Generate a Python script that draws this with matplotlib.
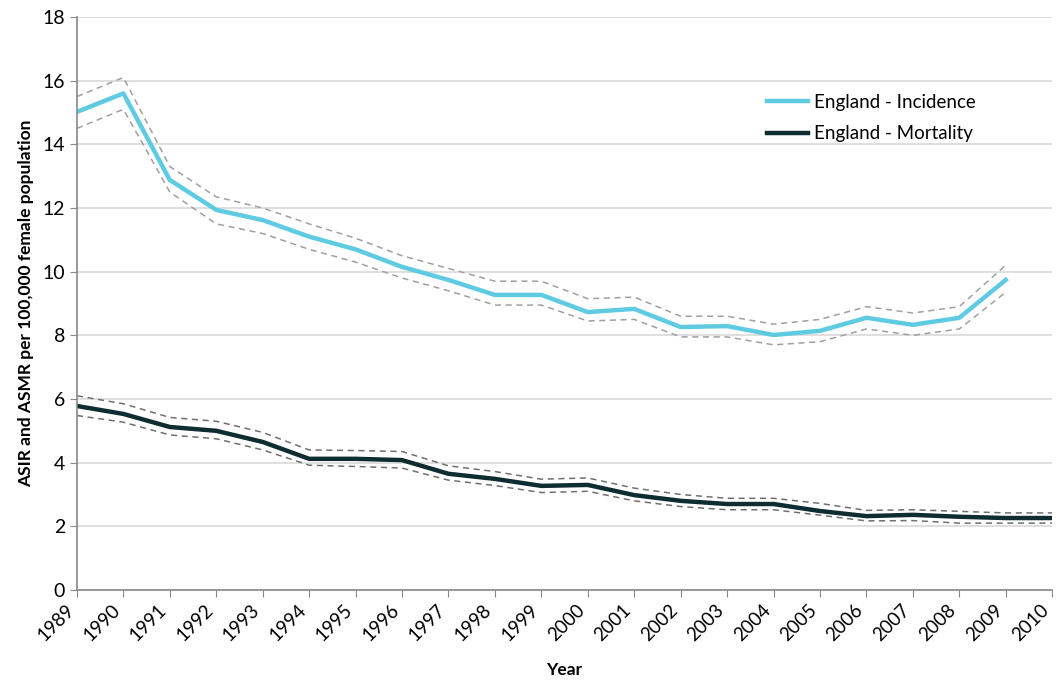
import matplotlib
matplotlib.use("Agg")
import matplotlib.pyplot as plt

years = list(range(1989, 2011))

inc_years = list(range(1989, 2010))
incidence = [15.02, 15.6, 12.88, 11.94, 11.62, 11.1, 10.7, 10.15, 9.74, 9.27, 9.27,
             8.73, 8.83, 8.26, 8.29, 8.01, 8.14, 8.55, 8.33, 8.55, 9.74]
inc_upper = [15.5, 16.1, 13.3, 12.35, 12.0, 11.5, 11.05, 10.5, 10.1, 9.7, 9.7,
             9.15, 9.2, 8.6, 8.6, 8.35, 8.5, 8.9, 8.7, 8.9, 10.2]
inc_lower = [14.5, 15.1, 12.5, 11.5, 11.2, 10.7, 10.3, 9.8, 9.4, 8.95, 8.95,
             8.45, 8.5, 7.95, 7.95, 7.7, 7.8, 8.2, 8.0, 8.2, 9.35]

mortality = [5.78, 5.53, 5.12, 5.0, 4.65, 4.12, 4.12, 4.08, 3.65, 3.49, 3.27,
             3.3, 2.98, 2.8, 2.7, 2.7, 2.48, 2.32, 2.36, 2.3, 2.26, 2.26]
mort_upper = [6.1, 5.85, 5.42, 5.3, 4.95, 4.4, 4.38, 4.35, 3.9, 3.72, 3.48,
              3.52, 3.2, 3.0, 2.88, 2.88, 2.72, 2.5, 2.52, 2.47, 2.42, 2.42]
mort_lower = [5.48, 5.27, 4.87, 4.75, 4.4, 3.92, 3.88, 3.83, 3.45, 3.28, 3.06,
              3.1, 2.8, 2.62, 2.52, 2.52, 2.35, 2.17, 2.18, 2.1, 2.1, 2.1]

plt.rcParams['font.family'] = ['Lato', 'DejaVu Sans']

fig = plt.figure(figsize=(10.6, 6.8), dpi=100)
ax = fig.add_axes([0.0726, 0.1324, 0.92, 0.8426])

ci_col = '#a0a0a0'
ax.plot(inc_years, inc_upper, color=ci_col, lw=1.1, ls=(0, (4, 3)))
ax.plot(inc_years, inc_lower, color=ci_col, lw=1.1, ls=(0, (4, 3)))
ax.plot(years, mort_upper, color='#707070', lw=1.1, ls=(0, (4, 3)))
ax.plot(years, mort_lower, color='#707070', lw=1.1, ls=(0, (4, 3)))
ax.plot(inc_years, incidence, color='#5fcbe3', lw=3.2, label='England - Incidence')
ax.plot(years, mortality, color='#0e2d30', lw=3.2, label='England - Mortality')

ax.set_xlim(1989, 2010)
ax.set_ylim(0, 18)
ax.set_yticks(range(0, 19, 2))
ax.set_xticks(years)
ax.set_xticklabels([str(y) for y in years], rotation=45, ha='right',
                   va='top', rotation_mode='default', fontsize=13.5)
ax.tick_params(axis='y', labelsize=14, length=5, color='#888888')
ax.tick_params(axis='x', length=5, color='#888888', pad=3)
ax.yaxis.grid(True, color='#d9d9d9', lw=1.2)
ax.set_axisbelow(True)
for s in ['top', 'right']:
    ax.spines[s].set_visible(False)
for s in ['left', 'bottom']:
    ax.spines[s].set_color('#888888')
    ax.spines[s].set_linewidth(1.2)

ax.set_ylabel('ASIR and ASMR per 100,000 female population', fontsize=12.5,
              fontweight='bold', labelpad=6)
ax.set_xlabel('Year', fontsize=12.5, fontweight='bold', labelpad=13)

ax.legend(loc='upper left', bbox_to_anchor=(0.69, 0.895), frameon=False,
          fontsize=13.5, handlelength=2.2, handletextpad=0.3, labelspacing=0.75)

fig.savefig('out.png', dpi=100)
